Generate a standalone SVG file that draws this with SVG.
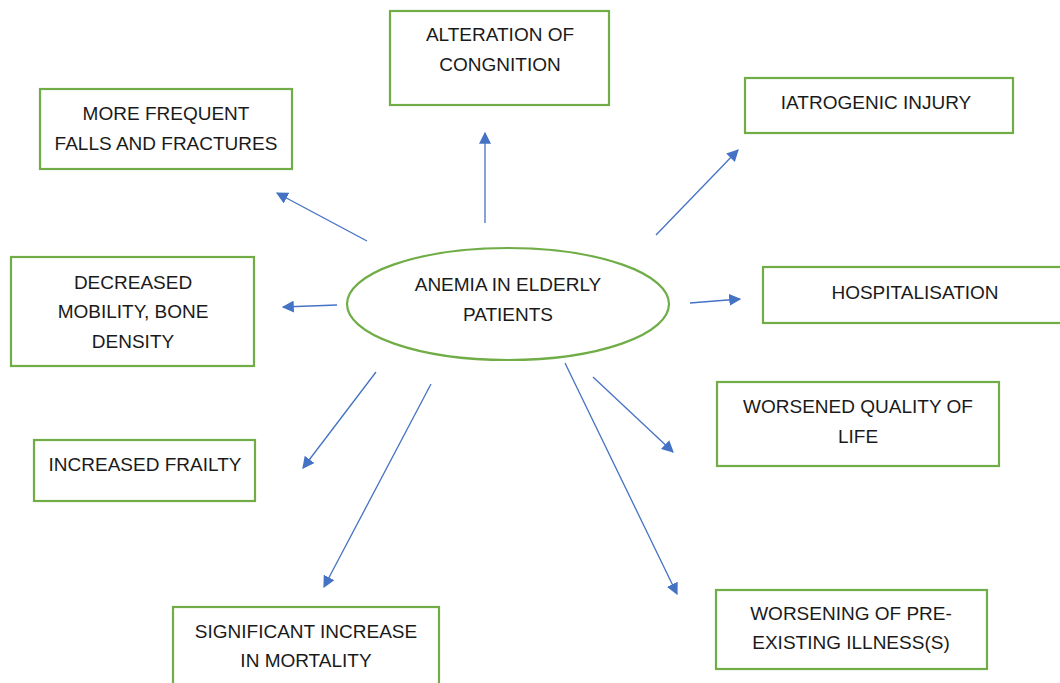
<svg xmlns="http://www.w3.org/2000/svg" width="1060" height="683" viewBox="0 0 1060 683">
<style>
.box{fill:#fff;stroke:#70AD47;stroke-width:2.2}
.t{font-family:"Liberation Sans",Arial,sans-serif;font-size:19px;fill:#1a1a1a;text-anchor:middle;dominant-baseline:central}
.c{stroke:#4472C4;stroke-width:1.3;fill:none;marker-end:url(#ah)}
</style>
<defs>
<marker id="ah" viewBox="0 0 10 10" refX="9" refY="5" markerWidth="12" markerHeight="12" markerUnits="userSpaceOnUse" orient="auto">
<path d="M0,0 L10,5 L0,10 z" fill="#4472C4"/>
</marker>
</defs>
<rect width="1060" height="683" fill="#fff"/>
<g id="connectors">
<line class="c" x1="485" y1="223" x2="485" y2="133"/>
<line class="c" x1="367" y1="241" x2="277" y2="193"/>
<line class="c" x1="656" y1="235" x2="738" y2="150"/>
<line class="c" x1="337" y1="305" x2="283" y2="307"/>
<line class="c" x1="690" y1="303" x2="740" y2="299"/>
<line class="c" x1="376" y1="372" x2="303" y2="468"/>
<line class="c" x1="431" y1="384" x2="324" y2="587"/>
<line class="c" x1="593" y1="377" x2="673" y2="452"/>
<line class="c" x1="565" y1="363" x2="677" y2="594"/>
</g>
<g id="center">
<ellipse cx="508" cy="304" rx="161" ry="56" fill="#fff" stroke="#70AD47" stroke-width="2.2"/>
<text class="t" x="508" y="284">ANEMIA IN ELDERLY</text>
<text class="t" x="508" y="314">PATIENTS</text>
</g>
<g id="cognition">
<rect class="box" x="390" y="11" width="219" height="94"/>
<text class="t" x="500" y="34">ALTERATION OF</text>
<text class="t" x="500" y="64">CONGNITION</text>
</g>
<g id="falls">
<rect class="box" x="40" y="89" width="252" height="80"/>
<text class="t" x="166" y="113">MORE FREQUENT</text>
<text class="t" x="166" y="143">FALLS AND FRACTURES</text>
</g>
<g id="iatrogenic">
<rect class="box" x="745" y="78" width="268" height="55"/>
<text class="t" x="876" y="102">IATROGENIC INJURY</text>
</g>
<g id="mobility">
<rect class="box" x="11" y="257" width="243" height="109"/>
<text class="t" x="133" y="282">DECREASED</text>
<text class="t" x="133" y="311">MOBILITY, BONE</text>
<text class="t" x="133" y="341">DENSITY</text>
</g>
<g id="hospitalisation">
<rect class="box" x="763" y="267" width="310" height="56"/>
<text class="t" x="915" y="292">HOSPITALISATION</text>
</g>
<g id="quality">
<rect class="box" x="717" y="382" width="282" height="84"/>
<text class="t" x="858" y="406">WORSENED QUALITY OF</text>
<text class="t" x="858" y="436">LIFE</text>
</g>
<g id="frailty">
<rect class="box" x="34" y="440" width="221" height="61"/>
<text class="t" x="145" y="464">INCREASED FRAILTY</text>
</g>
<g id="mortality">
<rect class="box" x="173" y="607" width="266" height="90"/>
<text class="t" x="306" y="631">SIGNIFICANT INCREASE</text>
<text class="t" x="306" y="660">IN MORTALITY</text>
</g>
<g id="preexisting">
<rect class="box" x="716" y="590" width="271" height="79"/>
<text class="t" x="851" y="613">WORSENING OF PRE-</text>
<text class="t" x="851" y="642">EXISTING ILLNESS(S)</text>
</g>
</svg>
